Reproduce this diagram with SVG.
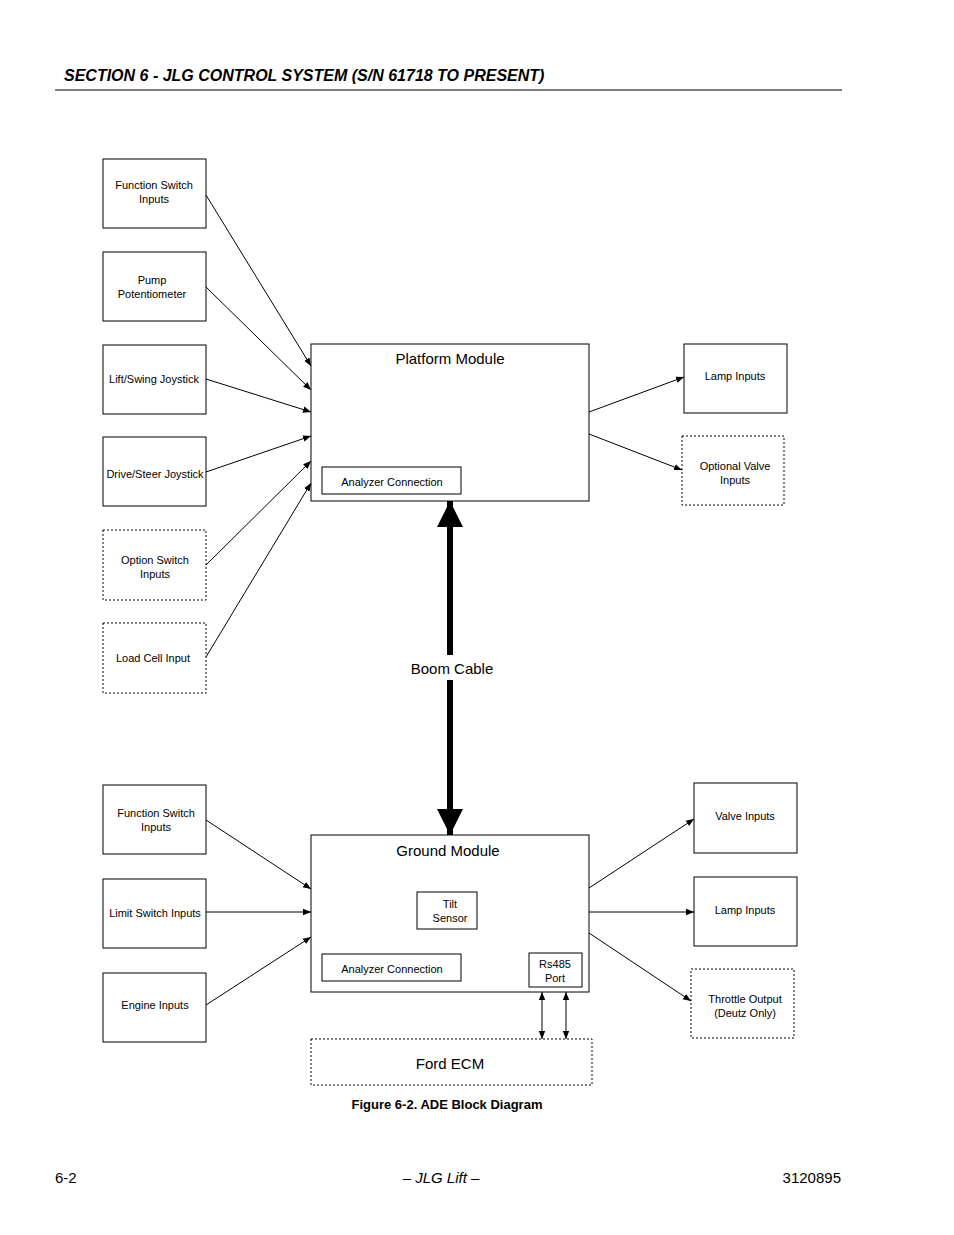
<svg xmlns="http://www.w3.org/2000/svg" width="954" height="1235" viewBox="0 0 954 1235">
<style>
.b{fill:#fff;stroke:#000;stroke-width:1}
.d{fill:#fff;stroke:#000;stroke-width:1;stroke-dasharray:2,2}
.t{font-family:"Liberation Sans",Arial,sans-serif;font-size:11px;text-anchor:middle}
.T{font-family:"Liberation Sans",Arial,sans-serif;font-size:15px;text-anchor:middle}
.c{stroke:#000;stroke-width:1;fill:none;marker-end:url(#a)}
</style>
<defs>
<marker id="a" viewBox="0 0 10 10" refX="10" refY="5" markerWidth="8" markerHeight="8" orient="auto-start-reverse" markerUnits="userSpaceOnUse"><path d="M0,1 L10,5 L0,9 z"/></marker>
<marker id="A" viewBox="0 0 10 10" refX="10" refY="5" markerWidth="26" markerHeight="26" orient="auto-start-reverse" markerUnits="userSpaceOnUse"><path d="M0,0 L10,5 L0,10 z"/></marker>
</defs>
<rect width="954" height="1235" fill="#fff"/>
<text x="64" y="81" font-family="Liberation Sans,Arial,sans-serif" font-size="16" font-weight="bold" font-style="italic">SECTION 6 - JLG CONTROL SYSTEM (S/N 61718 TO PRESENT)</text>
<line x1="55" y1="90" x2="842" y2="90" stroke="#000"/>
<g id="connectors">
<line class="c" x1="206" y1="195" x2="311" y2="366"/>
<line class="c" x1="206" y1="287" x2="311" y2="390"/>
<line class="c" x1="206" y1="379" x2="311" y2="412"/>
<line class="c" x1="206" y1="472" x2="311" y2="436"/>
<line class="c" x1="206" y1="565" x2="311" y2="461"/>
<line class="c" x1="206" y1="657" x2="311" y2="483"/>
<line class="c" x1="589" y1="412" x2="684" y2="377"/>
<line class="c" x1="589" y1="434" x2="682" y2="470"/>
<line class="c" x1="206" y1="820" x2="311" y2="889"/>
<line class="c" x1="206" y1="912" x2="311" y2="912"/>
<line class="c" x1="206" y1="1005" x2="311" y2="937"/>
<line class="c" x1="589" y1="888" x2="694" y2="819"/>
<line class="c" x1="589" y1="912" x2="694" y2="912"/>
<line class="c" x1="589" y1="933" x2="691" y2="1001"/>
<line class="c" x1="542" y1="992" x2="542" y2="1039" marker-start="url(#a)"/>
<line class="c" x1="566" y1="992" x2="566" y2="1039" marker-start="url(#a)"/>
<line x1="450" y1="501" x2="450" y2="655" stroke="#000" stroke-width="6" marker-start="url(#A)"/>
<line x1="450" y1="680" x2="450" y2="835" stroke="#000" stroke-width="6" marker-end="url(#A)"/>
<text class="T" x="452" y="674">Boom Cable</text>
</g>
<g id="fs1"><rect class="b" x="103" y="159" width="103" height="69"/><text class="t" x="154" y="189">Function Switch</text><text class="t" x="154" y="203">Inputs</text></g>
<g id="pump"><rect class="b" x="103" y="252" width="103" height="69"/><text class="t" x="152" y="284">Pump</text><text class="t" x="152" y="298">Potentiometer</text></g>
<g id="lsj"><rect class="b" x="103" y="345" width="103" height="69"/><text class="t" x="154" y="383">Lift/Swing Joystick</text></g>
<g id="dsj"><rect class="b" x="103" y="437" width="103" height="69"/><text class="t" x="155" y="478">Drive/Steer Joystick</text></g>
<g id="osi"><rect class="d" x="103" y="530" width="103" height="70"/><text class="t" x="155" y="564">Option Switch</text><text class="t" x="155" y="578">Inputs</text></g>
<g id="lci"><rect class="d" x="103" y="623" width="103" height="70"/><text class="t" x="153" y="662">Load Cell Input</text></g>
<g id="platform"><rect class="b" x="311" y="344" width="278" height="157"/><text class="T" x="450" y="364">Platform Module</text><rect class="b" x="322" y="467" width="139" height="27"/><text class="t" x="392" y="486">Analyzer Connection</text></g>
<g id="lamp1"><rect class="b" x="684" y="344" width="103" height="69"/><text class="t" x="735" y="380">Lamp Inputs</text></g>
<g id="ovi"><rect class="d" x="682" y="436" width="102" height="69"/><text class="t" x="735" y="470">Optional Valve</text><text class="t" x="735" y="484">Inputs</text></g>
<g id="fs2"><rect class="b" x="103" y="785" width="103" height="69"/><text class="t" x="156" y="817">Function Switch</text><text class="t" x="156" y="831">Inputs</text></g>
<g id="lsi"><rect class="b" x="103" y="879" width="103" height="69"/><text class="t" x="155" y="917">Limit Switch Inputs</text></g>
<g id="eng"><rect class="b" x="103" y="973" width="103" height="69"/><text class="t" x="155" y="1009">Engine Inputs</text></g>
<g id="ground"><rect class="b" x="311" y="835" width="278" height="157"/><text class="T" x="448" y="856">Ground Module</text>
<rect class="b" x="417" y="892" width="60" height="37"/><text class="t" x="450" y="908">Tilt</text><text class="t" x="450" y="922">Sensor</text>
<rect class="b" x="322" y="954" width="139" height="27"/><text class="t" x="392" y="973">Analyzer Connection</text>
<rect class="b" x="529" y="953" width="53" height="34"/><text class="t" x="555" y="968">Rs485</text><text class="t" x="555" y="982">Port</text></g>
<g id="valve"><rect class="b" x="694" y="783" width="103" height="70"/><text class="t" x="745" y="820">Valve Inputs</text></g>
<g id="lamp2"><rect class="b" x="694" y="877" width="103" height="69"/><text class="t" x="745" y="914">Lamp Inputs</text></g>
<g id="thr"><rect class="d" x="691" y="969" width="103" height="69"/><text class="t" x="745" y="1003">Throttle Output</text><text class="t" x="745" y="1017">(Deutz Only)</text></g>
<g id="ecm"><rect class="d" x="311" y="1039" width="281" height="46"/><text class="T" x="450" y="1069">Ford ECM</text></g>
<text x="447" y="1109" font-family="Liberation Sans,Arial,sans-serif" font-size="13" font-weight="bold" text-anchor="middle">Figure 6-2.  ADE Block Diagram</text>
<text x="55" y="1183" font-family="Liberation Sans,Arial,sans-serif" font-size="15">6-2</text>
<text x="441" y="1183" font-family="Liberation Sans,Arial,sans-serif" font-size="15" font-style="italic" text-anchor="middle">– JLG Lift –</text>
<text x="841" y="1183" font-family="Liberation Sans,Arial,sans-serif" font-size="15" text-anchor="end">3120895</text>
</svg>
